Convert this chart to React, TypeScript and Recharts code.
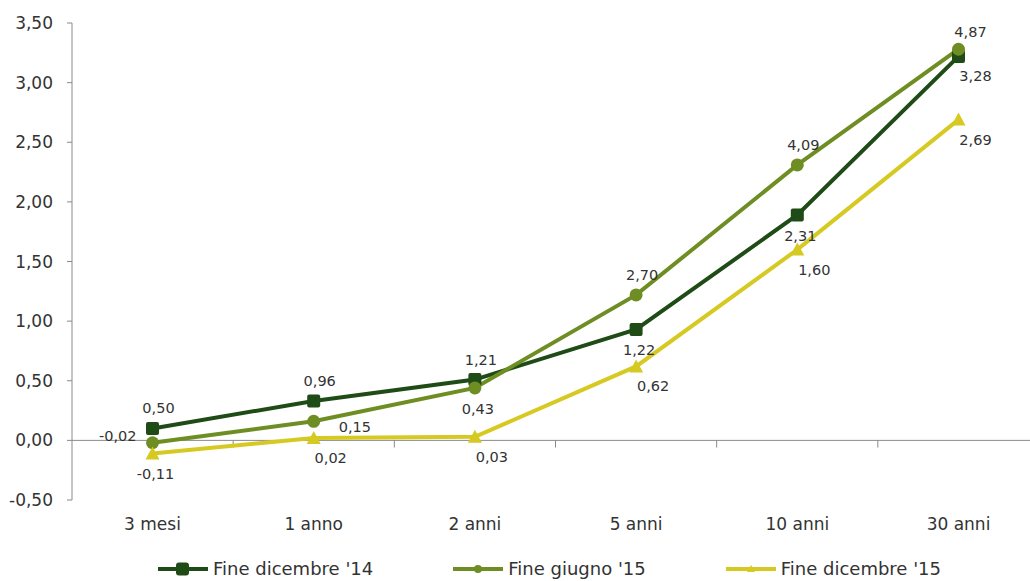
import React from 'react';
import {
  LineChart,
  Line,
  XAxis,
  YAxis,
  Legend,
  ReferenceLine,
  LabelList,
} from 'recharts';

const categories = ['3 mesi', '1 anno', '2 anni', '5 anni', '10 anni', '30 anni'];

const dic14 = [0.1, 0.33, 0.51, 0.93, 1.89, 3.22];
const giu15 = [-0.02, 0.16, 0.44, 1.22, 2.31, 3.28];
const dic15 = [-0.11, 0.02, 0.03, 0.62, 1.6, 2.69];

// data labels as printed in the source (they don't all match the points)
const dic14Labels = ['0,50', '0,96', '1,21', '1,22', '2,31', '3,28'];
const giu15Labels = ['-0,02', '0,15', '0,43', '2,70', '4,09', '4,87'];
const dic15Labels = ['-0,11', '0,02', '0,03', '0,62', '1,60', '2,69'];

const dic14Pos = ['top', 'top', 'top', 'bottom', 'bottom', 'bottomRight'];
const giu15Pos = ['left', 'right', 'bottom', 'top', 'top', 'topRight'];
const dic15Pos = ['bottom', 'bottomRight', 'bottomRight', 'bottomRight', 'bottomRight', 'bottomRight'];

const yTicks = [-0.5, 0, 0.5, 1, 1.5, 2, 2.5, 3, 3.5];

const DARK = '#1f4b17';
const OLIVE = '#6e8d22';
const YELLOW = '#d5c922';
const FONT = '"DejaVu Sans", Verdana, sans-serif';
const TEXT = '#333333';
const AXIS = '#8a8a8a';

const data = categories.map((c, i) => ({
  cat: c,
  dic14: dic14[i],
  giu15: giu15[i],
  dic15: dic15[i],
}));

const offsets: { [k: string]: [number, number, string] } = {
  top: [6, -20, 'middle'],
  bottom: [3, 21, 'middle'],
  bottomRight: [17, 20, 'middle'],
  topRight: [12, -17, 'middle'],
  left: [-16, -7, 'end'],
  right: [25, 6, 'start'],
};

const makeLabel = (texts: string[], pos: string[]) => (props: any) => {
  const { x, y, index } = props;
  if (x == null || y == null) return null;
  const [dx, dy, anchor] = offsets[pos[index]];
  return (
    <text
      x={x + dx}
      y={y + dy}
      textAnchor={anchor as any}
      dominantBaseline="central"
      fontSize={14.5}
      fontFamily={FONT}
      fill={TEXT}
    >
      {texts[index]}
    </text>
  );
};

const SquareDot = (props: any) => {
  const { cx, cy, index } = props;
  return <rect key={'s' + index} x={cx - 6.5} y={cy - 6.5} width={13} height={13} rx={2} fill={DARK} />;
};

const CircleDot = (props: any) => {
  const { cx, cy, index } = props;
  return <circle key={'c' + index} cx={cx} cy={cy} r={6.5} fill={OLIVE} />;
};

const TriangleDot = (props: any) => {
  const { cx, cy, index } = props;
  return (
    <polygon
      key={'t' + index}
      points={`${cx},${cy - 7} ${cx + 7},${cy + 6} ${cx - 7},${cy + 6}`}
      fill={YELLOW}
    />
  );
};

const legendItems = [
  { name: "Fine dicembre '14", color: DARK, shape: 'square' },
  { name: "Fine giugno '15", color: OLIVE, shape: 'circle' },
  { name: "Fine dicembre '15", color: YELLOW, shape: 'triangle' },
];

const renderLegend = () => (
  <div
    style={{
      display: 'flex',
      justifyContent: 'center',
      gap: 80,
      paddingLeft: 60,
      fontFamily: FONT,
      fontSize: 18,
      color: TEXT,
    }}
  >
    {legendItems.map((it) => (
      <div key={it.name} style={{ display: 'flex', alignItems: 'center' }}>
        <svg width={50} height={16} style={{ marginRight: 5 }}>
          <line x1={0} y1={8} x2={50} y2={8} stroke={it.color} strokeWidth={4} />
          {it.shape === 'square' && <rect x={18} y={1.5} width={13} height={13} rx={3} fill={it.color} />}
          {it.shape === 'circle' && <circle cx={25} cy={8} r={4} fill={it.color} />}
          {it.shape === 'triangle' && <polygon points="25,4 29,11 21,11" fill={it.color} />}
        </svg>
        <span>{it.name}</span>
      </div>
    ))}
  </div>
);

const fmt = (v: number) => v.toFixed(2).replace('.', ',');

export default function App() {
  return (
    <div style={{ position: 'fixed', left: 0, top: 0, width: 1030, height: 581, overflow: 'hidden', background: '#fff' }}>
      <LineChart
        width={1039}
        height={581}
        data={data}
        margin={{ top: 23, right: 0, left: 0, bottom: 27 }}
      >
        <XAxis
          dataKey="cat"
          axisLine={false}
          tickLine={false}
          tickMargin={12}
          height={30}
          padding={{ left: 80.5, right: 80.5 }}
          tick={{ fontSize: 17, fontFamily: FONT, fill: TEXT }}
        />
        {/* band copy of the category axis, used only for the small ticks between categories */}
        <XAxis xAxisId="band" dataKey="cat" scale="band" hide />
        <YAxis
          width={72}
          domain={[-0.5, 3.5]}
          ticks={yTicks}
          tickFormatter={fmt}
          tickSize={5}
          tickMargin={14}
          stroke={AXIS}
          tick={{ fontSize: 17, fontFamily: FONT, fill: TEXT }}
        />
        <ReferenceLine y={0} stroke={AXIS} strokeWidth={1} />
        {categories.slice(1).map((c) => (
          <ReferenceLine
            key={'edge' + c}
            xAxisId="band"
            position="start"
            segment={[{ x: c, y: 0 }, { x: c, y: -0.06 }]}
            stroke={AXIS}
            strokeWidth={1}
          />
        ))}
        <Legend verticalAlign="bottom" content={renderLegend} wrapperStyle={{ bottom: -1, height: 24 }} />
        <Line
          name="Fine dicembre '14"
          dataKey="dic14"
          stroke={DARK}
          strokeWidth={4}
          dot={SquareDot}
          activeDot={false}
          isAnimationActive={false}
        >
          <LabelList dataKey="dic14" content={makeLabel(dic14Labels, dic14Pos)} />
        </Line>
        <Line
          name="Fine giugno '15"
          dataKey="giu15"
          stroke={OLIVE}
          strokeWidth={4}
          dot={CircleDot}
          activeDot={false}
          isAnimationActive={false}
        >
          <LabelList dataKey="giu15" content={makeLabel(giu15Labels, giu15Pos)} />
        </Line>
        <Line
          name="Fine dicembre '15"
          dataKey="dic15"
          stroke={YELLOW}
          strokeWidth={4}
          dot={TriangleDot}
          activeDot={false}
          isAnimationActive={false}
        >
          <LabelList dataKey="dic15" content={makeLabel(dic15Labels, dic15Pos)} />
        </Line>
      </LineChart>
    </div>
  );
}
